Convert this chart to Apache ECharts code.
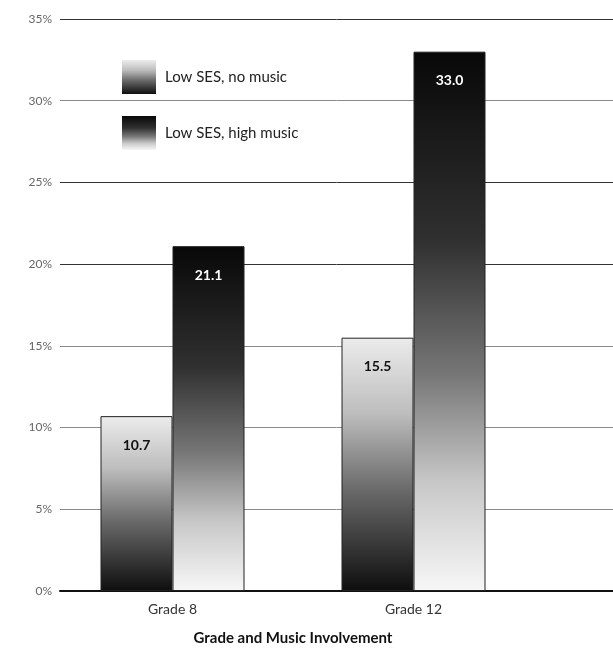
<!DOCTYPE html>
<html>
<head>
<meta charset="utf-8">
<script src="https://cdn.jsdelivr.net/npm/echarts@6/dist/echarts.min.js"></script>
<style>
  html, body { margin: 0; padding: 0; background: #fff; }
  #chart { width: 613px; height: 655px; }
</style>
</head>
<body>
<div id="chart"></div>
<script>
  var grades = ['Grade 8', 'Grade 12'];
  var noMusic = [10.7, 15.5];
  var highMusic = [21.1, 33.0];
  var seriesNames = ['Low SES, no music', 'Low SES, high music'];
  var yTicks = [0, 5, 10, 15, 20, 25, 30, 35];

  var font = 'Lato, "DejaVu Sans", sans-serif';

  // light top -> dark bottom
  var lightToDark = new echarts.graphic.LinearGradient(0, 0, 0, 1, [
    { offset: 0, color: '#ececec' },
    { offset: 0.3, color: '#bdbdbd' },
    { offset: 0.6, color: '#6a6a6a' },
    { offset: 1, color: '#0e0e0e' }
  ]);
  // dark top -> light bottom
  var darkToLight = new echarts.graphic.LinearGradient(0, 0, 0, 1, [
    { offset: 0, color: '#080808' },
    { offset: 0.35, color: '#303030' },
    { offset: 0.6, color: '#777' },
    { offset: 0.8, color: '#c8c8c8' },
    { offset: 1, color: '#f7f7f7' }
  ]);

  var chart = echarts.init(document.getElementById('chart'));
  var option = {
    animation: false,
    backgroundColor: '#fff',
    legend: {
      orient: 'vertical',
      left: 117,
      top: 55,
      itemWidth: 34,
      itemHeight: 34,
      itemGap: 22,
      icon: 'rect',
      data: seriesNames,
      itemStyle: { borderWidth: 0 },
      textStyle: { fontFamily: font, fontSize: 15, color: '#222', padding: [0, 0, 0, 4] }
    },
    grid: [
      // bars
      { left: 52, right: 79, top: 19, bottom: 64 },
      // grid lines + y labels
      { left: 60, right: 0, top: 19, bottom: 64 }
    ],
    xAxis: [
      {
        type: 'category',
        gridIndex: 0,
        data: grades,
        axisLine: { show: false },
        axisTick: { show: false },
        axisLabel: { fontFamily: font, fontSize: 14, color: '#333', margin: 11 },
        name: 'Grade and Music Involvement',
        nameLocation: 'middle',
        nameGap: 40,
        nameTextStyle: { fontFamily: font, fontSize: 15, fontWeight: 'bold', color: '#111' }
      },
      {
        type: 'value',
        gridIndex: 1,
        min: 0,
        max: 1,
        axisLine: { show: true, lineStyle: { color: '#111', width: 2 } },
        axisTick: { show: false },
        axisLabel: { show: false },
        splitLine: { show: false }
      }
    ],
    yAxis: [
      {
        type: 'value',
        gridIndex: 0,
        min: 0,
        max: 35,
        interval: 5,
        show: false
      },
      {
        type: 'value',
        gridIndex: 1,
        min: yTicks[0],
        max: yTicks[yTicks.length - 1],
        interval: 5,
        axisLine: { show: false },
        axisTick: { show: false },
        axisLabel: {
          fontFamily: font, fontSize: 12, color: '#666', margin: 8,
          formatter: function (v) { return v + '%'; }
        },
        splitLine: {
          show: true,
          lineStyle: {
            width: 1,
            color: ['#111', '#8a8a8a', '#8a8a8a', '#8a8a8a', '#333', '#333', '#8a8a8a', '#333']
          }
        }
      }
    ],
    series: [
      {
        name: seriesNames[0],
        type: 'bar',
        xAxisIndex: 0,
        yAxisIndex: 0,
        data: noMusic,
        barWidth: 72,
        barGap: '0%',
        z: 5,
        itemStyle: { color: lightToDark, borderColor: '#222', borderWidth: 1 },
        label: {
          show: true,
          position: 'insideTop',
          distance: 22,
          fontFamily: font,
          fontSize: 14,
          fontWeight: 'bold',
          color: '#111',
          formatter: function (p) { return p.value.toFixed(1); }
        }
      },
      {
        name: seriesNames[1],
        type: 'bar',
        xAxisIndex: 0,
        yAxisIndex: 0,
        data: highMusic,
        barWidth: 72,
        barGap: '0%',
        z: 5,
        itemStyle: { color: darkToLight, borderColor: '#222', borderWidth: 1 },
        label: {
          show: true,
          position: 'insideTop',
          distance: 22,
          fontFamily: font,
          fontSize: 14,
          fontWeight: 'bold',
          color: '#fff',
          formatter: function (p) { return p.value.toFixed(1); }
        }
      }
    ]
  };
  chart.setOption(option);
</script>
</body>
</html>
